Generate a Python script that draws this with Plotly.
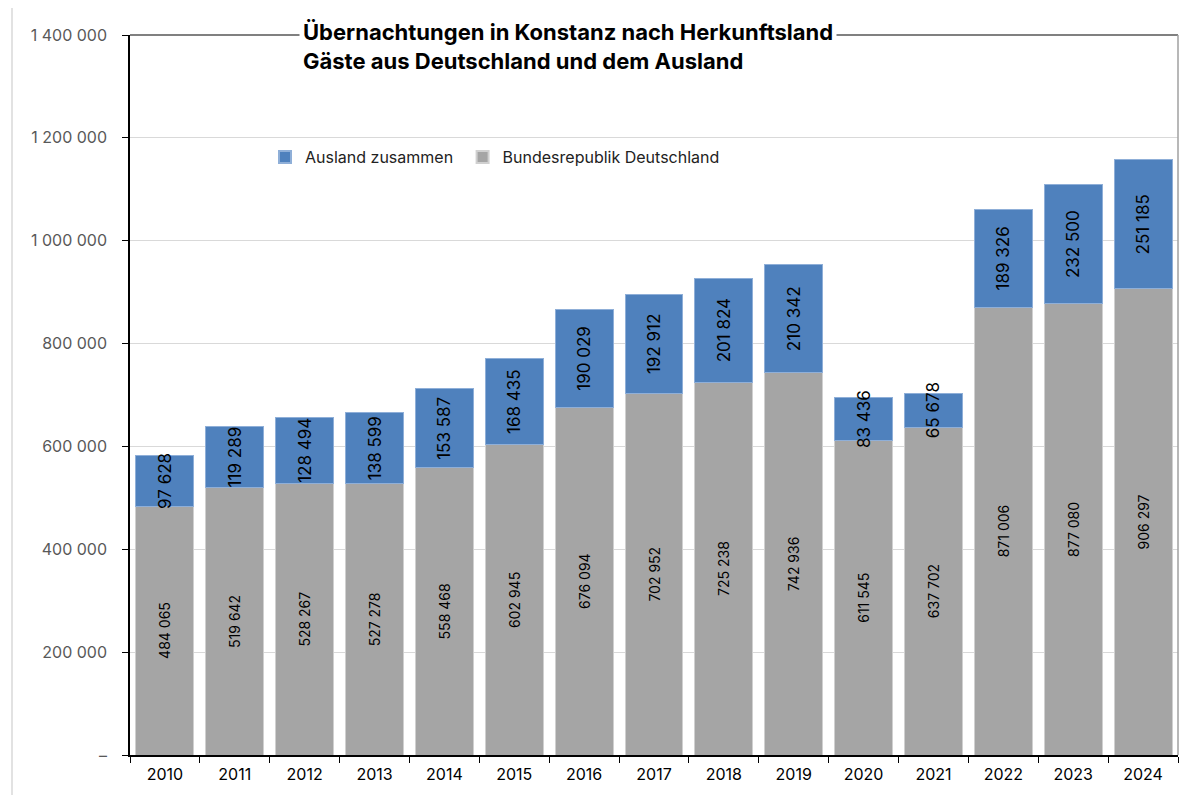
import plotly.graph_objects as go

years = [str(y) for y in range(2010, 2025)]
deutschland = [484065, 519642, 528267, 527278, 558468, 602945, 676094, 702952,
               725238, 742936, 611545, 637702, 871006, 877080, 906297]
ausland = [97628, 119289, 128494, 138599, 153587, 168435, 190029, 192912,
           201824, 210342, 83436, 65678, 189326, 232500, 251185]
ytick_vals = [0, 200000, 400000, 600000, 800000, 1000000, 1200000, 1400000]
ytick_text = ["–", "200 000", "400 000", "600 000", "800 000", "1 000 000", "1 200 000", "1 400 000"]

def fmt(v):
    return f"{v:,}".replace(",", " ")

FONT = "Inter"
fig = go.Figure()
fig.add_trace(go.Bar(
    x=years, y=deutschland, name="Bundesrepublik Deutschland",
    marker=dict(color="#A5A5A5", line=dict(color="#D0D0D0", width=1)),
    text=[fmt(v) for v in deutschland], textposition="inside",
    insidetextanchor="middle", textangle=-90, constraintext="none",
    textfont=dict(family=FONT, size=14, color="black"),
))
fig.add_trace(go.Bar(
    x=years, y=ausland, name="Ausland zusammen\u00a0",
    marker=dict(color="#4F81BD", line=dict(color="#8FAFD8", width=1)),
    text=[fmt(v) for v in ausland], textposition="inside",
    insidetextanchor="middle", textangle=-90, constraintext="none",
    textfont=dict(family=FONT, size=17, color="black"),
))

# page has an 8px body margin: compensate so the plot lands at page coords
OFF = 8
PW, PH = 1187, 803
W, H = PW - 2 * OFF, PH - 2 * OFF
PL, PR, PT, PB = 130, 1178, 35, 755  # plot area in page pixels
L, T = PL - OFF, PT - OFF
R = W - (PR - OFF)
B = H - (PB - OFF)
pw, ph = PR - PL, PB - PT
def px(x): return (x - PL) / pw
def py(y): return (PB - y) / ph

fig.update_layout(
    width=W, height=H, barmode="stack", bargap=0.17,
    margin=dict(l=L, r=R, t=T, b=B),
    paper_bgcolor="white", plot_bgcolor="white",
    font=dict(family=FONT, color="black"),
    legend=dict(orientation="h", traceorder="reversed", x=px(265), y=py(157),
                xanchor="left", yanchor="middle", bgcolor="rgba(0,0,0,0)",
                font=dict(family=FONT, size=16, color="#222222"),
                itemwidth=30, itemsizing="constant"),
    xaxis=dict(showline=True, linecolor="black", linewidth=1.5,
               ticks="outside", ticklen=6, tickcolor="black", tickson="boundaries",
               ticklabelstandoff=4,
               tickfont=dict(family=FONT, size=16, color="black"),
               showgrid=False),
    yaxis=dict(range=[0, 1400000], tickvals=ytick_vals, ticktext=ytick_text,
               showline=True, linecolor="black", linewidth=1.5,
               ticks="outside", ticklen=6, tickcolor="black", ticklabelstandoff=12,
               tickfont=dict(family=FONT, size=16, color="#595959"),
               showgrid=True, gridcolor="#D9D9D9", gridwidth=1, zeroline=False),
    shapes=[
        # white box behind legend (covers gridline)
        dict(type="rect", xref="paper", yref="paper", x0=px(255), x1=px(750),
             y0=py(175), y1=py(128), fillcolor="white", line=dict(width=0), layer="between"),
        # top and right border of plot area
        dict(type="line", xref="paper", yref="paper", x0=0, x1=1, y0=1, y1=1,
             line=dict(color="#808080", width=2)),
        dict(type="line", xref="paper", yref="paper", x0=1, x1=1, y0=0, y1=1,
             line=dict(color="#A0A0A0", width=1.5)),
        # outer chart frame
        dict(type="rect", xref="paper", yref="paper", x0=px(12), x1=px(1200),
             y0=py(820), y1=py(5), line=dict(color="#D9D9D9", width=1.5),
             fillcolor="rgba(0,0,0,0)"),
    ],
    annotations=[
        dict(text="<b>Übernachtungen in Konstanz nach Herkunftsland<br>Gäste aus Deutschland und dem Ausland</b>",
             xref="paper", yref="paper", x=px(299), y=py(15), xanchor="left", yanchor="top",
             align="left", showarrow=False, bgcolor="white", borderpad=3,
             font=dict(family=FONT, size=22, color="black")),
    ],
)

fig.write_html("out.html")
